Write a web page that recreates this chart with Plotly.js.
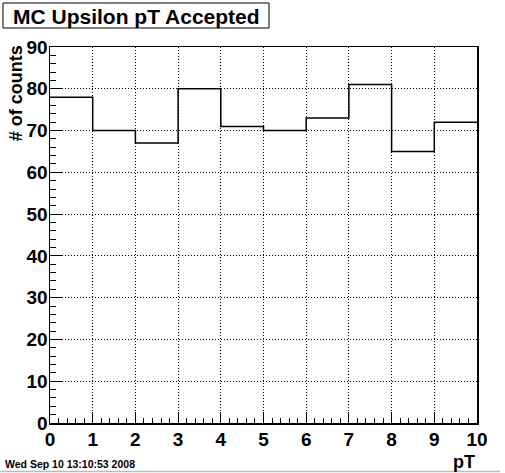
<!DOCTYPE html>
<html>
<head>
<meta charset="utf-8">
<script src="https://cdn.plot.ly/plotly-3.0.1.min.js"></script>
<style>html,body{margin:0;padding:0;background:#fff;}#chart{width:505px;height:473px;}</style>
</head>
<body>
<div id="chart"></div>
<script>
// Data
const binLowEdges = [0, 1, 2, 3, 4, 5, 6, 7, 8, 9];
const binWidth = 1;
const counts = [78, 70, 67, 80, 71, 70, 73, 81, 65, 72];
const xTickVals = [0, 1, 2, 3, 4, 5, 6, 7, 8, 9, 10];
const yTickVals = [0, 10, 20, 30, 40, 50, 60, 70, 80, 90];
const titleText = "MC Upsilon pT Accepted";
const xTitle = "pT";
const yTitle = "# of counts";
const dateText = "Wed Sep 10 13:10:53 2008";

// step outline: edges + last value repeated
const edgesX = binLowEdges.concat([binLowEdges[binLowEdges.length - 1] + binWidth]);
const stepY = counts.concat([counts[counts.length - 1]]);

const FONT = "Liberation Sans, Arial, Helvetica, sans-serif";

const trace = {
  type: "scatter",
  mode: "lines",
  x: edgesX,
  y: stepY,
  line: {shape: "hv", color: "#000", width: 1.5},
  hoverinfo: "skip",
  showlegend: false
};

const axisCommon = {
  showline: true, linecolor: "#000", linewidth: 1.5, mirror: true,
  ticks: "inside", tickcolor: "#000", tickwidth: 1,
  showgrid: true, gridcolor: "#000", gridwidth: 1, griddash: "1px,2px",
  zeroline: false, fixedrange: true,
  tickfont: {family: FONT, size: 19, color: "#000", weight: "bold"}
};

const layout = {
  width: 505, height: 473,
  margin: {l: 50, r: 28, t: 47, b: 50},
  paper_bgcolor: "#fff", plot_bgcolor: "#fff",
  xaxis: Object.assign({}, axisCommon, {
    range: [0, 10], tickvals: xTickVals, ticklen: 11,
    minor: {dtick: 0.2, ticks: "inside", ticklen: 5, tickcolor: "#000", showgrid: false},
    ticklabelstandoff: -1
  }),
  yaxis: Object.assign({}, axisCommon, {
    range: [0, 90], tickvals: yTickVals, ticklen: 12,
    minor: {dtick: 2, ticks: "inside", ticklen: 6, tickcolor: "#000", showgrid: false},
    ticklabelstandoff: -3
  }),
  shapes: [
    {type: "rect", xref: "paper", yref: "paper",
     x0: (3 - 50) / 427, x1: (269 - 50) / 427, y0: (423 - 28) / 376, y1: (423 - 3) / 376,
     line: {color: "#000", width: 1}, fillcolor: "#fff", layer: "above"},
    {type: "line", xref: "paper", yref: "paper",
     x0: -50 / 427, x1: (500 - 50) / 427, y0: (423 - 471.5) / 376, y1: (423 - 471.5) / 376,
     line: {color: "#bbb", width: 1.5}}
  ],
  annotations: [
    {text: "<b>" + titleText + "</b>", xref: "paper", yref: "paper",
     x: (136 - 50) / 427, y: (423 - 16) / 376, xanchor: "center", yanchor: "middle",
     showarrow: false, font: {family: FONT, size: 21, color: "#000"}},
    {text: "<b>" + yTitle + "</b>", xref: "paper", yref: "paper",
     x: (16 - 50) / 427, y: 1.01, xanchor: "center", yanchor: "top", textangle: -90,
     showarrow: false, font: {family: FONT, size: 18, color: "#000"}},
    {text: "<b>" + xTitle + "</b>", xref: "paper", yref: "paper",
     x: 1, y: (423 - 462) / 376, xanchor: "right", yanchor: "middle",
     showarrow: false, font: {family: FONT, size: 18, color: "#000"}},
    {text: "<b>" + dateText + "</b>", xref: "paper", yref: "paper",
     x: (3 - 50) / 427, y: (423 - 463.5) / 376, xanchor: "left", yanchor: "middle",
     showarrow: false, font: {family: FONT, size: 10.5, color: "#000"}}
  ]
};

Plotly.newPlot("chart", [trace], layout, {displayModeBar: false, staticPlot: true});
</script>
</body>
</html>
